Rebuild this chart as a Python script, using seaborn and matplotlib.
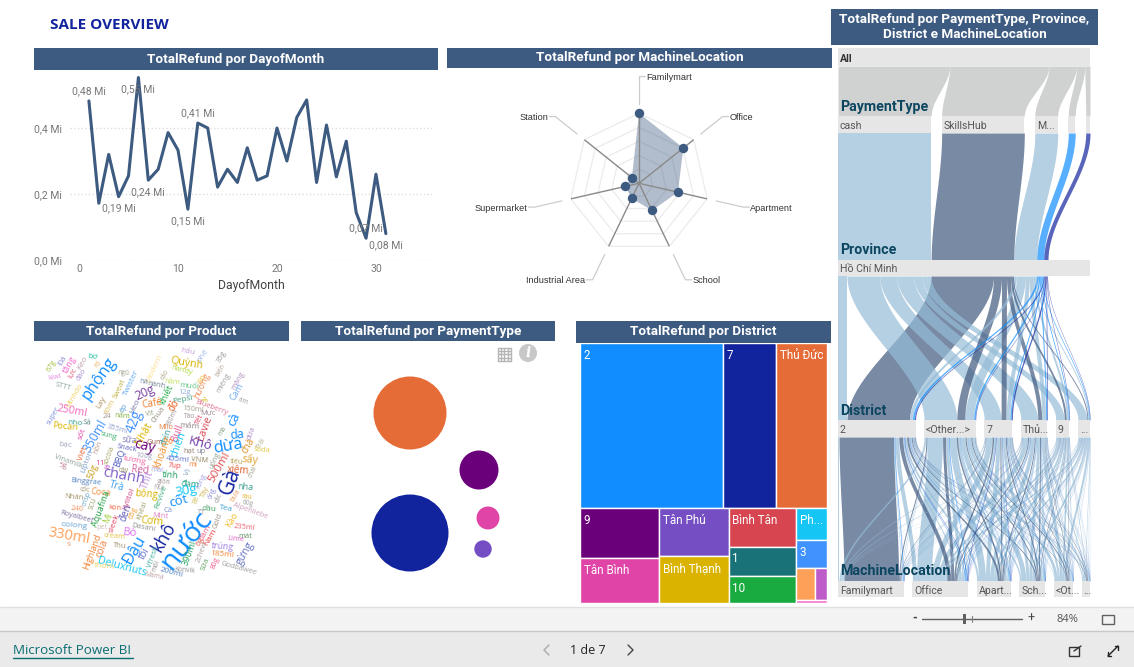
import matplotlib
matplotlib.use('Agg')
import matplotlib.pyplot as plt
from matplotlib.patches import Circle, Rectangle
import numpy as np
import seaborn as sns

W, H = 1134, 667

# line chart
days = list(range(1, 32))
refund = [.482, .172, .32, .192, .255, .553, .242, .275, .386, .333, .154, .415, .40, .221, .275, .235,
          .34, .242, .255, .40, .30, .432, .485, .235, .409, .252, .36, .144, .066, .26, .08]
label_days = [1, 4, 6, 7, 11, 12, 29, 31]
label_text = ['0,48 Mi', '0,19 Mi', '0,55 Mi', '0,24 Mi', '0,15 Mi', '0,41 Mi', '0,07 Mi', '0,08 Mi']
label_up = [True, False, False, False, False, True, True, False]

# radar
locations = ['Familymart', 'Office', 'Apartment', 'School', 'Industrial Area', 'Supermarket', 'Station']
location_refund = [1.0, .81, .57, .43, .24, .20, .13]

# bubbles
payment_names = ['cash', 'SkillsHub', 'M...', 'Pay 4', 'Pay 5']
payment_size = [1482, 1332, 380, 132, 76]
payment_x = [109, 109, 178, 187, 182]
payment_y = [188, 68, 125, 173, 204]
payment_colors = ['#12239E', '#E66C37', '#6B007B', '#E044A7', '#744EC2']

# treemap
district_names = ['2', '7', 'Thủ Đức', '9', 'Tân Bình', 'Tân Phú', 'Bình Thạnh', 'Bình Tân', '1', '10',
                  'Ph...', '3', '', '', '']
district_refund = [23595, 8745, 8415, 3925, 3530, 3312, 3243, 2584, 1972, 1836, 961, 868, 608, 384, 78]
district_colors = ['#118DFF', '#12239E', '#E66C37', '#6B007B', '#E044A7', '#744EC2', '#D9B300', '#D64550',
                   '#197278', '#1AAB40', '#15C6F4', '#4092FF', '#FFA058', '#BE5DC9', '#F472D0']
district_tree = [[0, 1, 2], [[3, 4], [5, 6], [7, 8, 9], [10, 11, [12, 13], 14]]]

# sankey: payment, district, location
flow_cash = [[1, 4, 2, 1.5, .5, 0], [2, 15, 7, 5, 3, 1], [1, 6, 4, 3, 2, 1],
             [1, 5, 4, 3, 3, 1], [.5, 2.5, 2, 1.5, 1.5, .5], [.5, 2, 2, 2, 2, .5]]
flow_skills = [[55, 4, 2, 1, .5, .5], [1, 3, 1.5, 1, 1, .5], [.5, 1.5, 1, 1, .5, .5],
               [.3, 1, 1, 1, .5, .2], [.1, .5, .4, .5, .4, .1], [.1, .3, .2, .2, .1, .1]]
flow_m = [[.5, 1, .5, .5, .3, .2], [.5, 3, 2, 1.5, 1.5, .5], [.3, 1.5, 1, .5, .5, .2],
          [.3, 1.2, 1, .7, .5, .3], [.1, .6, .5, .4, .3, .1], [.1, .3, .2, .2, .1, .1]]
flow_pay4 = [[.6, .5, .4, .2, .2, .1], [.1, .6, .3, .2, .2, .1], [.1, .3, .2, .2, .1, .1],
             [.1, .3, .2, .2, .1, .1], [.1, .2, .2, .1, .1, .1], [.1, .2, .1, .1, .1, .1]]
flow_pay5 = [[.1, .4, .2, .1, .1, .1], [.05, .15, .1, .1, .05, .05], [.1, .5, .3, .2, .1, .1],
             [.1, .2, .1, .1, .1, .05], [.05, .15, .1, .05, .05, .05], [.05, .1, .1, .05, .05, .05]]
sankey_payment = ['cash', 'SkillsHub', 'M...', '', '']
sankey_district = ['2', '<Other...>', '7', 'Thủ...', '9', '...']
sankey_location = ['Familymart', 'Office', 'Apart...', 'Sch...', '<Ot...', '...']

# word cloud
word_text = ['hấu', 'phê', '35g', 'Đá', 'bơ', 'rổ', '67g', 'tăng', 'lực', 'Keo', 'đào', 'phộng', 'Quỳnh', 'handy',
             'Modern', 'ngũ', 'cảo', 'kiwi', 'STTT', 'Minhdo', 'Twister', 'hà', 'nành', 'Sweat', 'hầm', 'muối',
             'Bò', 'hương', 'miệng', 'măng', 'biển', 'Cam', 'rim', '20g', 'khiết', '12g', 'Pepsi', 'ly', 'Café',
             'đỏ', 'Lay', 'tôm', 'ép', 'Heo', 'Vịt', 'Chua', '180ml', '150ml', 'Mực', 'Blueberry', 'Táo', 'Tết',
             '250ml', 'super', '24', 'nấm', 'nho', 'Sả', 'Pocari', '42g', 'mắm', 'cà', 'da', '355ml', 'Milo',
             'Bull', 'Lavie', 'sốt', '350ml', 'sung', 'sữa', 'Nhật', 'Gum', 'chín', 'Khô', 'dừa', 'mà', 'chà',
             'dứa', 'Trái', 'soda', 'bạc', 'hồn', 'Snack', 'sôcôla', 'cay', 'chiên', 'hạt', 'up', 'Vinamilk',
             '5g', 'Lipton', 'Việt', 'BBQ', '100g', 'khoáng', '455ml', 'VNM', '500ml', 'sấy', 'uống', 'tiêu',
             'tương', '11', 'lá', 'mì', '7up', 'xiêm', '50g', 'chanh', 'cây', 'Red', 'mai', 'Vị', 'chai', 'tính',
             'đạm', 'Binggrae', 'Thịt', 'giòn', 'Nui', 'Trà', 'Coca', 'rong', '30g', 'nha', 'Gà', 'cốt', 'bông',
             'Xylitol', 'cốc', 'crisp', 'Nhân', 'SCU', 'Bịt', 'Tây', 'Revive', '240', 'Aquafina', 'kon', 'đen',
             '65g', 'Khéai', 'Cà', 'TT', 'dầu', 'Tea', 'Alpenliebe', '60g', 'bưa', 'rau', 'cắc', 'ống',
             'Royalbeef', 'oolong', 'Mì', 'sleek', 'Mint', 'Cơm', 'Dasani', 'Kào', 'Gold', 'pet', '235ml', 'mát',
             'Lime', '330ml', 'Bò', 'cream', 'đầm', 'Nam', '6g', 'trúng', 'gừng', 'Highland', 'cola', 'Thu',
             'Đậu', 'khô', 'nước', 'tôi', 'Vfresh', '390ml', '2chew', '185ml', '80g', 'Sữa', 'Deluxnuts', 'thơm',
             'mối', 'Konvik', '200ml', 'Mama', 'Godbawee', 'sì']
# x, y (in 3x crop units of the panel), font size, rotation, colour
word_place = [(472, 35, 8, -10, '#C9A0DC'), (517, 48, 8, 55, '#A0B8E8'), (575, 50, 7, 60, '#999999'),
    (100, 62, 8, 60, '#9090D8'), (188, 52, 8, -5, '#20C0A0'), (205, 72, 7, 45, '#E8B060'),
    (65, 78, 7, 60, '#A0C040'), (118, 75, 9, 60, '#F472D0'), (125, 97, 8, 60, '#E06080'),
    (157, 68, 8, 60, '#C0A0B0'), (155, 103, 7, 60, '#B090D0'), (208, 115, 18, 55, '#118DFF'),
    (470, 70, 11, -10, '#D9B300'), (455, 90, 7, -15, '#B0D840'), (372, 85, 8, 65, '#FFE090'),
    (282, 98, 6, -5, '#A0A090'), (405, 105, 6, 60, '#A8A080'), (75, 112, 7, 10, '#E090E0'),
    (98, 140, 7, -15, '#90A8A0'), (133, 167, 7, 60, '#F0D060'), (305, 128, 8, 65, '#60A8F0'),
    (343, 127, 7, -5, '#7088A8'), (380, 135, 7, -10, '#708090'), (268, 145, 7, 65, '#C0B040'),
    (428, 127, 7, -5, '#C0E060'), (478, 138, 8, -5, '#60C080'), (517, 115, 8, 60, '#E8C040'),
    (517, 138, 9, 65, '#F09060'), (582, 128, 7, 60, '#A0A0A0'), (625, 122, 7, 60, '#B090C0'),
    (572, 90, 6, 60, '#B0A090'), (622, 155, 9, 60, '#70A8F0'), (640, 185, 6, -20, '#A0A0A0'),
    (345, 157, 13, 25, '#7A3FA0'), (410, 165, 9, 65, '#1AAB40'), (465, 158, 7, 0, '#90A8E0'),
    (457, 178, 8, 10, '#40A080'), (525, 175, 8, 65, '#D0C020'), (365, 192, 10, 10, '#F08030'),
    (432, 196, 10, 60, '#F06020'), (213, 188, 8, 60, '#B09060'), (243, 200, 8, 60, '#E0C060'),
    (283, 203, 8, 60, '#60A0D8'), (315, 200, 8, 65, '#8080B0'), (360, 218, 6, 10, '#90A080'),
    (385, 223, 7, 55, '#908878'), (428, 233, 6, 65, '#A09898'), (490, 207, 7, -5, '#A8A090'),
    (535, 218, 7, 0, '#A08898'), (545, 203, 7, -20, '#E07090'), (480, 228, 6, 0, '#A09090'),
    (510, 238, 7, 65, '#E04060'), (127, 215, 11, -10, '#F06AC0'), (70, 228, 7, 60, '#8090E0'),
    (232, 228, 7, 0, '#A09090'), (278, 230, 7, -5, '#80B040'), (135, 250, 8, -5, '#30A090'),
    (172, 250, 7, -5, '#508080'), (105, 260, 9, -5, '#D9B300'), (315, 245, 15, 70, '#4092FF'),
    (478, 258, 8, -5, '#908080'), (612, 238, 14, 65, '#118DFF'), (622, 285, 13, 5, '#118DFF'),
    (262, 268, 7, -15, '#90A0D0'), (408, 262, 7, 0, '#E08040'), (442, 280, 10, 70, '#E05090'),
    (525, 265, 11, 70, '#D64550'), (157, 283, 8, 70, '#E044A7'), (195, 288, 13, 60, '#4092FF'),
    (237, 288, 7, -15, '#40B070'), (298, 300, 9, -5, '#8080C0'), (340, 280, 11, 60, '#D9B300'),
    (375, 307, 7, 0, '#A06050'), (407, 290, 9, 70, '#40A0A0'), (510, 310, 14, -15, '#7040A8'),
    (595, 318, 18, 10, '#118DFF'), (578, 273, 6, 60, '#80A080'), (655, 318, 10, 60, '#E09020'),
    (665, 280, 7, 70, '#B090D0'), (695, 310, 6, 60, '#B0B090'), (697, 332, 7, -5, '#E0C840'),
    (105, 312, 8, -5, '#A0A8B8'), (205, 320, 7, 70, '#C0A090'), (290, 325, 7, -10, '#6060C0'),
    (238, 345, 6, 70, '#A0A060'), (345, 320, 15, -15, '#6B007B'), (445, 315, 11, 70, '#15C6F4'),
    (478, 333, 7, 0, '#908070'), (512, 335, 7, 0, '#808090'), (115, 365, 7, -20, '#90A098'),
    (100, 378, 7, -5, '#C08090'), (172, 365, 8, 70, '#80A0D0'), (157, 340, 8, 70, '#F06030'),
    (268, 355, 9, 70, '#5060C0'), (342, 350, 7, -5, '#A0A0C0'), (398, 335, 10, 70, '#F09030'),
    (445, 358, 8, -5, '#6070D0'), (508, 360, 7, -5, '#908060'), (568, 382, 12, 60, '#E05050'),
    (660, 358, 11, -5, '#E0A030'), (553, 360, 7, 65, '#90A090'), (620, 367, 7, -5, '#B0A050'),
    (315, 362, 8, -10, '#F060A0'), (210, 370, 8, 0, '#E044A7'), (235, 380, 7, 65, '#C040C0'),
    (490, 375, 7, -5, '#F08030'), (435, 377, 7, -5, '#F04040'), (625, 392, 10, -5, '#E06030'),
    (187, 395, 9, 70, '#C8A020'), (280, 408, 16, -10, '#8060C8'), (282, 390, 6, 0, '#909060'),
    (330, 392, 10, -5, '#D060A0'), (380, 390, 7, -5, '#A0A0E0'), (473, 395, 8, 65, '#80A0C0'),
    (670, 395, 6, 65, '#A0A090'), (422, 405, 9, -5, '#20A060'), (480, 430, 9, -5, '#20A080'),
    (167, 425, 7, -5, '#5080C0'), (350, 420, 11, 70, '#C090E0'), (403, 425, 6, -5, '#A09090'),
    (387, 445, 6, -5, '#A0A0A0'), (262, 440, 10, -15, '#40A0F0'), (212, 457, 9, -5, '#F09040'),
    (515, 425, 7, 65, '#A0A0E0'), (468, 452, 14, 10, '#15C6F4'), (645, 443, 9, -5, '#40A090'),
    (600, 425, 24, 70, '#12239E'), (447, 482, 14, 15, '#118DFF'), (350, 463, 10, -5, '#D9B300'),
    (298, 478, 8, 70, '#D04080'), (165, 450, 6, -5, '#A09070'), (170, 475, 6, 70, '#60A0C0'),
    (133, 473, 7, -5, '#A09060'), (190, 490, 6, 70, '#A0A070'), (497, 478, 6, 70, '#D0C060'),
    (525, 455, 7, 65, '#D0B050'), (393, 472, 8, 70, '#40B080'), (142, 507, 7, -5, '#F09060'),
    (213, 505, 9, 70, '#20A040'), (255, 505, 7, -5, '#F06040'), (288, 518, 10, 70, '#6060C0'),
    (310, 520, 7, 70, '#F0A030'), (338, 510, 7, 70, '#A0A070'), (415, 510, 7, 0, '#8090D0'),
    (515, 520, 7, -5, '#A0A0A0'), (537, 507, 8, -5, '#40A060'), (588, 505, 8, -10, '#40A0D0'),
    (660, 512, 7, -20, '#D0A0C0'), (655, 490, 6, -10, '#A0A0A0'), (618, 465, 7, 60, '#F0A060'),
    (650, 470, 6, -5, '#E0B020'), (567, 475, 6, 70, '#909090'), (547, 458, 6, 70, '#9090E0'),
    (140, 532, 7, -15, '#8070A0'), (132, 557, 8, -5, '#60A0D0'), (235, 535, 9, 65, '#A0D040'),
    (255, 550, 8, 70, '#E04060'), (390, 530, 7, -5, '#E080C0'), (365, 545, 11, -5, '#D9B300'),
    (340, 563, 7, -10, '#909090'), (607, 540, 9, 60, '#F0C030'), (565, 543, 7, 70, '#A09080'),
    (215, 562, 7, 0, '#D0C0C0'), (645, 562, 7, -5, '#F06070'), (645, 590, 7, 0, '#609060'),
    (617, 598, 7, -5, '#E060C0'), (117, 590, 16, -10, '#FFA058'), (302, 578, 12, -5, '#E070F0'),
    (255, 590, 7, -5, '#E0C040'), (528, 578, 8, 60, '#F06080'), (543, 592, 8, 60, '#F04040'),
    (510, 605, 8, 65, '#E06050'), (578, 620, 9, -5, '#A080E0'), (645, 640, 11, 60, '#6070C0'),
    (187, 635, 9, 70, '#F08030'), (218, 625, 10, 70, '#F08040'), (270, 618, 7, -5, '#A09070'),
    (312, 630, 18, 60, '#118DFF'), (402, 590, 20, 60, '#12239E'), (470, 600, 33, 52, '#118DFF'),
    (345, 642, 10, 60, '#6070D0'), (370, 650, 7, 70, '#40B0A0'), (478, 640, 9, 70, '#20A060'),
    (517, 635, 7, 70, '#B0A0A0'), (578, 645, 8, -5, '#F08030'), (557, 670, 7, 70, '#F06090'),
    (525, 672, 7, 70, '#60A060'), (277, 680, 11, -15, '#15C6F4'), (222, 680, 8, -5, '#F0D060'),
    (378, 678, 6, 70, '#909090'), (465, 690, 6, -5, '#909090'), (425, 698, 8, -15, '#5080C0'),
    (373, 708, 6, -10, '#C0A0A0'), (625, 685, 7, -15, '#A0A0A0'), (118, 612, 6, 0, '#F0A080')]

BAR = '#3D5A80'
DIN = ['Roboto', 'DejaVu Sans']
CLOUD = ['Open Sans', 'DejaVu Sans']

sns.set_theme(style='white')
plt.rcParams['font.family'] = DIN

fig = plt.figure(figsize=(W / 100, H / 100), dpi=100, facecolor='white')


def panel(x0, y0, x1, y1, **kw):
    ax = fig.add_axes([x0 / W, 1 - y1 / H, (x1 - x0) / W, (y1 - y0) / H], **kw)
    ax.patch.set_alpha(0)
    return ax


bg = panel(0, 0, W, H)
bg.set_xlim(0, W)
bg.set_ylim(H, 0)
bg.axis('off')


def title_bar(x0, y0, x1, y1, text):
    bg.add_patch(Rectangle((x0, y0), x1 - x0, y1 - y0, color=BAR, lw=0))
    bg.text((x0 + x1) / 2, (y0 + y1) / 2, text, color='white', fontsize=9.7, fontweight='bold',
            ha='center', va='center', linespacing=1.25)


bg.text(50, 25, 'SALE OVERVIEW', color='#12239E', fontsize=11, fontweight='bold', family=CLOUD, va='center')
title_bar(34, 48, 438, 70, 'TotalRefund por DayofMonth')
title_bar(447, 48, 832, 68, 'TotalRefund por MachineLocation')
title_bar(34, 321, 289, 341, 'TotalRefund por Product')
title_bar(301, 321, 555, 341, 'TotalRefund por PaymentType')
title_bar(576, 321, 831, 343, 'TotalRefund por District')
title_bar(831, 9, 1098, 45, 'TotalRefund por PaymentType, Province,\nDistrict e MachineLocation')

# line chart
ax = panel(70, 75, 432, 260)
sns.lineplot(x=days, y=refund, ax=ax, color=BAR, lw=2.2, zorder=3)
ax.set_xlim(-0.91, 35.66)
ax.set_ylim(0, 0.5606)
ax.set_xticks([0, 10, 20, 30])
ax.set_yticks([0, .2, .4])
ax.set_yticklabels(['0,0 Mi', '0,2 Mi', '0,4 Mi'])
ax.tick_params(length=0, labelsize=7.5, labelcolor='#777777')
ax.tick_params(axis='y', pad=6)
ax.tick_params(axis='x', pad=3)
ax.yaxis.grid(True, ls=':', lw=1, color='#DDDDDD')
ax.set_axisbelow(True)
sns.despine(ax=ax, left=True, bottom=True)
ax.set_xlabel('DayofMonth', fontsize=8.8, color='#444444', labelpad=3.5)
ax.set_ylabel('')
for d, t, up in zip(label_days, label_text, label_up):
    ax.annotate(t, (d, refund[d - 1]), xytext=(0, 7 if up else -8.5), textcoords='offset points',
                ha='center', va='center', fontsize=7.5, color='#777777', zorder=4, annotation_clip=False)

# radar
cx, cy, R = 639, 183.3, 70
ax = panel(cx - R, cy - R, cx + R, cy + R, projection='polar')
ax.set_theta_zero_location('N')
ax.set_theta_direction(-1)
theta = np.arange(len(locations)) * 2 * np.pi / len(locations)
for ring in [.2, .4, .6, .8, 1]:
    ax.plot(np.append(theta, 0), [ring] * (len(theta) + 1), color='#EBEBEB', lw=.9, zorder=1)
ax.fill(theta, location_refund, color=BAR, alpha=.4, lw=0, zorder=2)
for t in theta:
    ax.plot([t, t], [0, 1], color='#8A8A8A', lw=1, zorder=3)
sns.scatterplot(x=theta, y=location_refund, ax=ax, color=BAR, s=46, linewidth=0, zorder=5, clip_on=False)
ax.set_ylim(0, 1)
ax.axis('off')
side = [1, 1, 1, 1, -1, -1, -1]
for name, t, s in zip(locations, theta, side):
    x0 = cx + R * 1.13 * np.sin(t)
    y0 = cy - R * 1.13 * np.cos(t)
    x1 = cx + R * 1.53 * np.sin(t)
    y1 = cy - R * 1.53 * np.cos(t)
    bg.plot([x0, x1, x1 + s * 6], [y0, y1, y1], color='#CCCCCC', lw=.9, zorder=1)
    bg.text(x1 + s * 7, y1 + 1, name, fontsize=6.6, color='#333333', family=['Liberation Sans', 'DejaVu Sans'],
            ha='left' if s > 0 else 'right', va='center')

# word cloud
for word, (zx, zy, pt, rot, col) in zip(word_text, word_place):
    bg.text(30 + zx / 3, 340 + zy / 3, word, fontsize=pt * .58 + 1.3, rotation=rot, color=col, family=CLOUD,
            ha='center', va='center', rotation_mode='anchor')

# bubbles
ax = panel(301, 345, 555, 600)
sns.scatterplot(x=payment_x, y=payment_y, hue=payment_names, size=payment_size, sizes=(157, 3074),
                palette=payment_colors, linewidth=0, legend=False, ax=ax, clip_on=False)
ax.set_xlim(0, 254)
ax.set_ylim(255, 0)
ax.axis('off')

# grid and info icons
for i in range(5):
    bg.plot([498 + i * 3.2, 498 + i * 3.2], [348, 361], color='#B5B5B5', lw=1)
    bg.plot([498, 511], [348 + i * 3.2, 348 + i * 3.2], color='#B5B5B5', lw=1)
bg.add_patch(Circle((528, 353), 9, color='#C8C8C8', lw=0))
bg.text(528, 353, 'i', color='white', fontsize=10, fontweight='bold', style='italic',
        family=['DejaVu Serif'], ha='center', va='center')

# treemap
ax = panel(580, 343, 827, 603)
ax.set_xlim(0, 1)
ax.set_ylim(1, 0)
ax.axis('off')


def tree_total(node):
    if isinstance(node, int):
        return district_refund[node]
    return sum(tree_total(n) for n in node)


def draw_tree(node, x, y, w, h, across):
    if isinstance(node, int):
        ax.bar(x, h, w, bottom=y, align='edge', color=district_colors[node], edgecolor='white', lw=1)
        ax.annotate(district_names[node], (x, y), xytext=(2.6, -4.2), textcoords='offset points',
                    color='white', fontsize=8.4, ha='left', va='top')
        return
    total = tree_total(node)
    pos = 0
    for n in node:
        f = tree_total(n) / total
        if across:
            draw_tree(n, x + pos * w, y, f * w, h, False)
        else:
            draw_tree(n, x, y + pos * h, w, f * h, True)
        pos += f


draw_tree(district_tree, 0, 0, 1, 1, False)

# sankey
flows = np.array([flow_cash, flow_skills, flow_m, flow_pay4, flow_pay5])
link_colors = ['#95BCD7', '#41597F', '#95BCD7', '#118DFF', '#12239E']
left, right = 838, 1090
t = np.linspace(0, 1, 50)
ease = 3 * t ** 2 - 2 * t ** 3


def ribbon(a0, b0, y0, a1, b1, y1, color, alpha=.7, z=1):
    bg.fill_betweenx(y0 + (y1 - y0) * t, a0 + (a1 - a0) * ease, b0 + (b1 - b0) * ease,
                     color=color, alpha=alpha, lw=0, zorder=z)


def node(x0, x1, y0, y1, text, weight='normal', color='#555555'):
    bg.add_patch(Rectangle((x0, y0), x1 - x0, y1 - y0, color='#E6E6E6', lw=0, zorder=3))
    bg.text(x0 + 2, (y0 + y1) / 2 + 1.5, text, fontsize=7.6, color=color, fontweight=weight,
            va='center', ha='left', zorder=5)


def node_edges(sizes, gap):
    scale = (right - left - gap * (len(sizes) - 1)) / sum(sizes)
    edges = []
    x = left
    for s in sizes:
        edges.append((x, x + s * scale))
        x += s * scale + gap
    return edges, scale


pay_tot = flows.sum(axis=(1, 2))
dist_tot = flows.sum(axis=(0, 2))
loc_tot = flows.sum(axis=(0, 1))
pay_edges, pay_scale = node_edges(pay_tot, 10.5)
dist_edges, dist_scale = node_edges(dist_tot, 8.5)
loc_edges, loc_scale = node_edges(loc_tot, 8.5)

# All to payment
top = left
all_scale = (right - left) / pay_tot.sum()
for i, (x0, x1) in enumerate(pay_edges):
    ribbon(top, top + pay_tot[i] * all_scale, 66, x0, x1, 116, '#D0D2D2', alpha=1)
    top += pay_tot[i] * all_scale

# payment to province
x = left
for i, (x0, x1) in enumerate(pay_edges):
    ribbon(x0, x1, 133, x, x + pay_tot[i] * pay_scale, 260, link_colors[i], z=1)
    x += pay_tot[i] * pay_scale

# province to district
x = left
links = []
fill = [e[0] for e in dist_edges]
for p in range(5):
    for d in range(6):
        w = flows[p, d].sum() * dist_scale
        links.append((w, x, fill[d], p))
        x += w
        fill[d] += w
for w, a, b, p in sorted(links, key=lambda r: -r[0]):
    ribbon(a, a + w, 276, b, b + w, 420, link_colors[p])

# district to location
src = [e[0] for e in dist_edges]
src_pos = {}
for d in range(6):
    for l in range(6):
        for p in range(5):
            src_pos[p, d, l] = src[d]
            src[d] += flows[p, d, l] * dist_scale
dst = [e[0] for e in loc_edges]
links = []
for p in range(5):
    for l in range(6):
        for d in range(6):
            w = flows[p, d, l]
            links.append((w, src_pos[p, d, l], w * dist_scale, dst[l], w * loc_scale, p))
            dst[l] += w * loc_scale
for w, a, wa, b, wb, p in sorted(links, key=lambda r: -r[0]):
    ribbon(a, a + wa, 437, b, b + wb, 581, link_colors[p])

node(left, right, 48, 66, 'All', weight='bold', color='#333333')
for (x0, x1), name in zip(pay_edges, sankey_payment):
    node(x0, x1, 116, 133, name)
node(left, right, 260, 276, 'Hồ Chí Minh')
for (x0, x1), name in zip(dist_edges, sankey_district):
    node(x0, x1, 420, 437, name)
for (x0, x1), name in zip(loc_edges, sankey_location):
    node(x0, x1, 581, 597, name)
for yy, name in zip([107, 250, 411, 571], ['PaymentType', 'Province', 'District', 'MachineLocation']):
    bg.text(840, yy, name, fontsize=10.2, fontweight='bold', color='#0B4560', va='center', zorder=6)

# footer
bg.add_patch(Rectangle((0, 607), W, 24, color='#F3F3F3', lw=0))
bg.add_patch(Rectangle((0, 631), W, 36, color='#EAEAEA', lw=0))
bg.plot([0, W], [607, 607], color='#E0E0E0', lw=1)
bg.plot([0, W], [630.5, 630.5], color='#C8C8C8', lw=1)
bg.text(915, 618.5, '-', fontsize=9, color='#444444', ha='center', va='center', fontweight='bold')
bg.plot([922, 1022], [619, 619], color='#606060', lw=1)
bg.add_patch(Rectangle((962.5, 614), 3, 10, color='#606060', lw=0))
bg.plot([972, 972], [616, 622], color='#808080', lw=.8)
bg.text(1031, 618.5, '+', fontsize=9, color='#444444', ha='center', va='center')
bg.text(1067, 619, '84%', fontsize=8, color='#555555', ha='center', va='center', family=CLOUD)
bg.add_patch(Rectangle((1102, 614.5), 12, 9, fill=False, ec='#606060', lw=1))
bg.text(13, 651, 'Microsoft Power BI', fontsize=9.6, color='#0A6E73', va='center', family=CLOUD)
bg.plot([13, 133], [658, 658], color='#0A6E73', lw=1)
bg.text(588, 650, '1 de 7', fontsize=9, color='#222222', ha='center', va='center', family=CLOUD)
bg.plot([549, 544, 549], [645, 650, 655], color='#AAAAAA', lw=1)
bg.plot([628, 633, 628], [645, 650, 655], color='#444444', lw=1)
bg.add_patch(Rectangle((1069, 647), 10, 9, fill=False, ec='#333333', lw=1))
bg.plot([1074, 1081], [651, 646], color='#333333', lw=1)
bg.plot([1108, 1118], [656, 646], color='#222222', lw=1)
bg.plot([1108, 1108, 1111], [652, 656, 656], color='#222222', lw=1)
bg.plot([1115, 1118, 1118], [646, 646, 650], color='#222222', lw=1)

fig.savefig('out.png', dpi=100)
